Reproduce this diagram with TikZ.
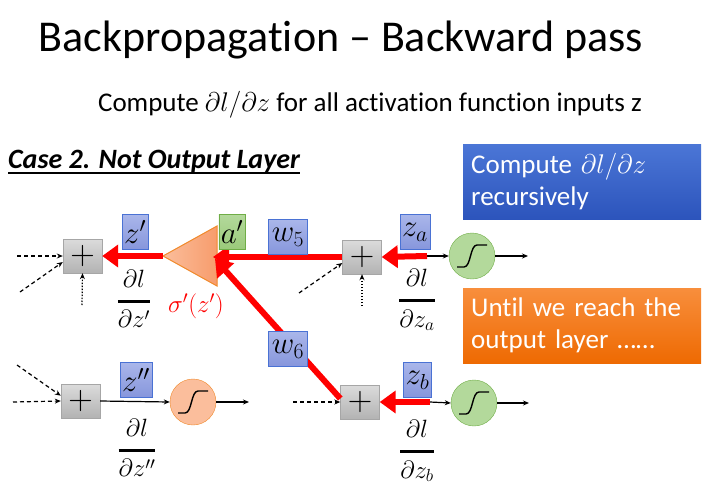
\documentclass[tikz,border=0pt]{standalone}
\usepackage{fix-cm}
\usepackage{amsmath}
\usepackage{fontspec}
\setmainfont{Carlito}[Ligatures={TeX,NoCommon}]
\usetikzlibrary{arrows.meta,positioning}
\definecolor{varfill}{HTML}{AAB6EA}
\definecolor{varshade}{HTML}{8696DC}
\definecolor{varedge}{HTML}{4A72D4}
\definecolor{grnfill}{HTML}{B3D99B}
\definecolor{grnshade}{HTML}{9ACA7A}
\definecolor{grnedge}{HTML}{70AD47}
\definecolor{orgfill}{HTML}{FBBE9C}
\definecolor{orgshade}{HTML}{F79C6C}
\definecolor{orgedge}{HTML}{F0892A}
\definecolor{bluetop}{HTML}{4B76D6}
\definecolor{bluebot}{HTML}{2C54BC}
\definecolor{orangetop}{HTML}{F88E3C}
\definecolor{orangebot}{HTML}{EE6A02}
\newcommand{\dldz}[1]{$\genfrac{}{}{2.6pt}{0}{\partial l\rule[-5pt]{0pt}{5pt}}{\partial #1}$}
\tikzset{
  sumbox/.style={draw=black!35, top color=black!14, bottom color=black!30, minimum width=39pt, minimum height=34pt, inner sep=0pt, font=\fontsize{34}{34}\selectfont},
  varbox/.style={draw=varedge, top color=varfill, bottom color=varshade, minimum height=35pt, inner xsep=2pt, inner ysep=0pt, font=\fontsize{31}{31}\selectfont},
  actbox/.style={varbox, draw=grnedge, top color=grnfill, bottom color=grnshade},
  neuron/.style={circle, draw=grnedge, fill=grnfill, minimum size=46pt, inner sep=0pt},
  neuronorg/.style={neuron, draw=orgedge, fill=orgfill},
  notebox/.style={anchor=north west, text=white, align=left, text width=222pt, inner xsep=8pt, minimum height=75pt, font=\fontsize{27}{32}\selectfont},
  redarr/.style={draw=red, line width=6pt, -{Triangle[length=16pt,width=22pt]}},
  fwd/.style={draw, line width=1.2pt, -{Stealth[length=6pt,width=5pt]}},
  dashin/.style={fwd, dash pattern=on 4pt off 3pt},
  dotin/.style={fwd, dash pattern=on 1.5pt off 1.5pt},
  dfr/.style={font=\fontsize{25}{25}\selectfont, inner sep=0pt},
  sigm/.pic={\draw[line width=1.4pt] (-15,11) -- (-8,11) .. controls (-1,11) and (-2,-11) .. (5,-11) -- (15,-11);}
}
\begin{document}
\begin{tikzpicture}[x=1pt, y=-1pt]
  \useasboundingbox (0,0) rectangle (708,490);

  \node (title) at (341,40) {\fontsize{44}{44}\selectfont Backpropagation -- Backward pass};
  \node (sub) at (370,105) {\fontsize{27}{27}\selectfont Compute $\partial l/\partial z$ for all activation function inputs z};
  \node[anchor=base west, inner sep=0pt] (case) at (8,168) {\fontsize{28}{28}\selectfont\bfseries\itshape Case 2. Not Output Layer};
  \draw[line width=1.6pt] ([yshift=-5pt]case.base west) -- ([yshift=-5pt]case.base east);

  \node[notebox, top color=bluetop, bottom color=bluebot] (note1) at (463,144) {Compute $\partial l/\partial z$\\recursively};
  \node[notebox, top color=orangetop, bottom color=orangebot] (note2) at (463,288) {Until we reach the\\output layer ……};

  % top row
  \node[sumbox] (sum1) at (82.5,256) {$+$};
  \coordinate (tip) at (163,256);
  \path[draw=orgedge, line width=1pt, left color=orgfill, right color=orgshade] (tip) -- (217,226) -- (217,286) -- cycle;
  \coordinate (actin) at (213,257);
  \coordinate (actin2) at (215,259);
  \node[sumbox] (suma) at (362,257) {$+$};
  \node[neuron] (siga) at (472,256) {};
  \pic at (siga) {sigm};
  \coordinate (fa) at (427,256);
  \coordinate (outa) at (528,256);

  % bottom row
  \node[sumbox] (sum2) at (80.5,401) {$+$};
  \node[neuronorg] (sig2) at (193,402) {};
  \pic at (sig2) {sigm};
  \coordinate (out2) at (249,402);
  \node[sumbox] (sumb) at (360,402) {$+$};
  \node[neuron] (sigb) at (474,403) {};
  \pic at (sigb) {sigm};
  \coordinate (fb) at (430,402);
  \coordinate (outb) at (529,403);

  \draw[dashin] (17,256) -- (sum1.west);
  \draw[dashin] (20,292) -- (sum1.197);
  \draw[dotin] (82,305) -- (sum1.south);
  \draw[dashin] (299,293) -- (suma.197);
  \draw[dotin] (362,306) -- (suma.south);
  \draw[dashin] (13,402) -- (sum2.west);
  \draw[dashin] (17,365) -- (sum2.165);
  \draw[dashin] (293,402) -- (sumb.west);

  \draw[fwd] (fa) -- (siga.west);
  \draw[fwd] (siga.east) -- (outa);
  \draw[fwd] (sum2.east) -- (sig2.west);
  \draw[fwd] (sig2.east) -- (out2);
  \draw[fwd] (fb) -- (sigb.west);
  \draw[fwd] (sigb.east) -- (outb);

  \draw[redarr] (tip) -- (sum1.east);
  \draw[redarr] (suma.west) -- (actin);
  \draw[redarr] (sumb.170) -- (actin2);
  \draw[redarr] (fa) -- (suma.east);
  \draw[redarr] (fb) -- (sumb.east);

  \node[varbox] (z1) at (135,232) {$z'$};
  \node[actbox] (a1) at (232,232) {$a'$};
  \node[varbox, minimum width=39pt] (w5) at (288,237) {$w_5$};
  \node[varbox, minimum width=39pt] (w6) at (288,349) {$w_6$};
  \node[varbox] (za) at (415,232) {$z_a$};
  \node[varbox] (z2) at (136,380) {$z''$};
  \node[varbox] (zb) at (417.5,380) {$z_b$};

  \node[dfr] (d1) at (134,299) {\dldz{z'}};
  \node[dfr] (da) at (417,300) {\dldz{z_a}};
  \node[dfr] (d2) at (137,448) {\dldz{z''}};
  \node[dfr] (db) at (417,451) {\dldz{z_b}};
  \node[text=red, font=\fontsize{25}{25}\selectfont] (sig1) at (196,306) {$\sigma'(z')$};
\end{tikzpicture}
\end{document}
